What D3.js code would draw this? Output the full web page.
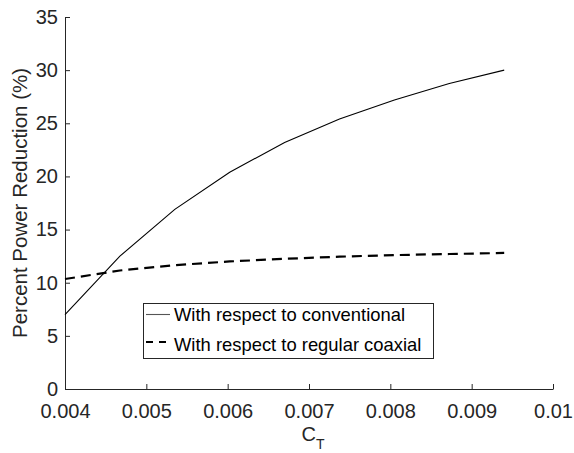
<!DOCTYPE html>
<html>
<head>
<meta charset="utf-8">
<script src="https://cdn.jsdelivr.net/npm/d3@7"></script>
<style>
  html, body { margin: 0; padding: 0; background: #fff; }
  svg { display: block; }
  text { font-family: "Liberation Sans", Arial, Helvetica, sans-serif; }
</style>
</head>
<body>
<svg id="chart" width="574" height="453"></svg>
<script>
// Thrust coefficient samples
const ct = [0.004, 0.004675, 0.00535, 0.006025, 0.0067, 0.007375, 0.00805, 0.008725, 0.0094];
// Percent power reduction relative to a conventional rotor
const vsConventional = [7.0, 12.5, 16.9, 20.4, 23.2, 25.4, 27.2, 28.75, 30.0];
// Percent power reduction relative to a regular coaxial rotor
const vsCoaxial = [10.35, 11.15, 11.65, 12.0, 12.25, 12.45, 12.6, 12.7, 12.8];

const xTicks = [0.004, 0.005, 0.006, 0.007, 0.008, 0.009, 0.01];
const yTicks = [0, 5, 10, 15, 20, 25, 30, 35];
const seriesNames = ["With respect to conventional", "With respect to regular coaxial"];

const svg = d3.select("#chart");
const plotLeft = 65, plotRight = 553, plotTop = 17, plotBottom = 389;
const axisColor = "#262626";

const x = d3.scaleLinear().domain([0.004, 0.01]).range([plotLeft, plotRight]);
const y = d3.scaleLinear().domain([0, 35]).range([plotBottom, plotTop]);

// Axes: ticks pointing inward, no box
const xAxis = d3.axisBottom(x).tickValues(xTicks)
  .tickFormat(d => d === 0.01 ? "0.01" : d3.format(".3f")(d))
  .tickSizeInner(-5).tickSizeOuter(0).tickPadding(14.5);
const yAxis = d3.axisLeft(y).tickValues(yTicks).tickFormat(d3.format("d"))
  .tickSizeInner(-5).tickSizeOuter(0).tickPadding(7);

const gx = svg.append("g").attr("transform", `translate(0,${plotBottom})`).call(xAxis);
const gy = svg.append("g").attr("transform", `translate(${plotLeft},0)`).call(yAxis);
[gx, gy].forEach(g => {
  g.select(".domain").attr("stroke", axisColor).attr("stroke-width", 1);
  g.selectAll(".tick line").attr("stroke", axisColor);
  g.selectAll(".tick text").attr("fill", axisColor).attr("font-size", 20)
    .attr("font-family", "'Liberation Sans', Arial, sans-serif");
});

// Axis titles
const xTitle = svg.append("text")
  .attr("x", (plotLeft + plotRight) / 2 + 4).attr("y", 441)
  .attr("text-anchor", "middle").attr("font-size", 20).attr("fill", axisColor);
xTitle.append("tspan").text("C");
xTitle.append("tspan").attr("font-size", 14).attr("dy", 8).text("T");

svg.append("text")
  .attr("transform", `translate(27,${(plotTop + plotBottom) / 2}) rotate(-90)`)
  .attr("text-anchor", "middle").attr("font-size", 20.5).attr("fill", axisColor)
  .text("Percent Power Reduction (%)");

// Curves
const line = d3.line().x((d, i) => x(ct[i])).y(d => y(d));

svg.append("path").datum(vsConventional)
  .attr("d", line).attr("fill", "none")
  .attr("stroke", "#000").attr("stroke-width", 1.1);

svg.append("path").datum(vsCoaxial)
  .attr("d", line).attr("fill", "none")
  .attr("stroke", "#000").attr("stroke-width", 2.2)
  .attr("stroke-dasharray", "10,6");

// Legend
const lg = svg.append("g");
lg.append("rect")
  .attr("x", 143.5).attr("y", 303.5).attr("width", 290).attr("height", 55)
  .attr("fill", "#fff").attr("stroke", axisColor).attr("stroke-width", 1);
const rows = [
  { name: seriesNames[0], w: 1.1, dash: null, cy: 314.5, base: 320.7 },
  { name: seriesNames[1], w: 2.2, dash: "7,6", cy: 342, base: 350.5 }
];
rows.forEach(r => {
  const l = lg.append("line")
    .attr("x1", 146).attr("x2", 170).attr("y1", r.cy).attr("y2", r.cy)
    .attr("stroke", r.dash ? "#000" : "#555").attr("stroke-width", r.w);
  if (r.dash) l.attr("stroke-dasharray", r.dash);
  lg.append("text")
    .attr("x", 174).attr("y", r.base)
    .attr("font-size", 18.4).attr("fill", "#000")
    .text(r.name);
});
</script>
</body>
</html>
